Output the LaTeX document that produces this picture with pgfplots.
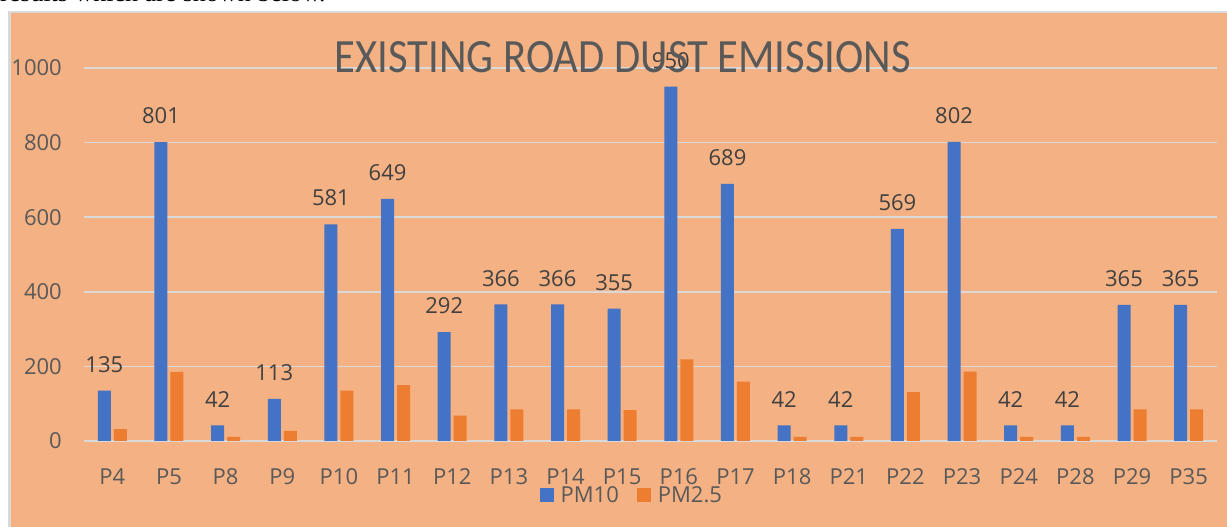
\documentclass[border=0pt]{standalone}
\usepackage{pgfplots}
\pgfplotsset{compat=1.18}
\usepackage{fontspec}
\setmainfont{Open Sans}
\newfontfamily\titlefont{Carlito}
\newfontfamily\docfont{Liberation Serif}
\definecolor{bg}{HTML}{F4B183}
\definecolor{frame}{HTML}{D9D9D9}
\definecolor{gridc}{HTML}{D9D9D9}
\definecolor{tickc}{HTML}{595959}
\definecolor{labc}{HTML}{404040}
\definecolor{pmten}{HTML}{4472C4}
\definecolor{pmtwo}{HTML}{ED7D31}
\begin{document}
\begin{tikzpicture}
\useasboundingbox (0pt,0pt) rectangle (1227pt,527pt);
\clip (0pt,0pt) rectangle (1227pt,527pt);
\fill[white] (0pt,0pt) rectangle (1227pt,527pt);
\node[anchor=base west, inner sep=0pt, font=\docfont\fontsize{26}{30}\selectfont] at (0pt,525pt) {results which are shown below.};
\fill[bg] (9.5pt,-10pt) rectangle (1240pt,515pt);
\draw[frame, line width=2.5pt] (9.5pt,-10pt) -- (9.5pt,515pt) -- (1240pt,515pt);
\begin{axis}[
  at={(84pt,86pt)}, anchor=south west,
  scale only axis, width=1133pt, height=373pt,
  xmin=-0.5, xmax=19.5, ymin=0, ymax=1000,
  enlargelimits=false, clip=false,
  ybar, bar width=13pt,
  axis line style={draw=none}, tick style={draw=none},
  ymajorgrids, grid style={gridc, line width=1.6pt},
  ytick={0,200,400,600,800,1000},
  xtick={0,...,19},
  xticklabels={P4,P5,P8,P9,P10,P11,P12,P13,P14,P15,P16,P17,P18,P21,P22,P23,P24,P28,P29,P35},
  /pgf/number format/assume math mode=true,
  /pgf/number format/1000 sep={},
  yticklabel style={font=\fontsize{22}{22}\selectfont, color=tickc, anchor=east, inner sep=0pt, xshift=-22pt},
  xticklabel style={font=\fontsize{22}{22}\selectfont, color=tickc, anchor=north, inner sep=0pt, yshift=-23pt},
  legend style={draw=none, fill=none, legend columns=2, at={(0.4835,-0.1448)}, anchor=center,
    font=\fontsize{22}{22}\selectfont, text=tickc,
    /tikz/every odd column/.append style={column sep=5pt},
    /tikz/every even column/.append style={column sep=16pt}},
  legend image code/.code={\fill[#1] (0pt,-7pt) rectangle (14pt,7pt);},
]
\addplot[fill=pmten, draw=none, bar shift=-8pt,
  nodes near coords,
  every node near coord/.append style={font=\fontsize{22}{22}\selectfont, color=labc, anchor=south, inner sep=0pt, yshift=18pt}]
  coordinates {(0,135) (1,801) (2,42) (3,113) (4,581) (5,649) (6,292) (7,366) (8,366) (9,355)
  (10,950) (11,689) (12,42) (13,42) (14,569) (15,802) (16,42) (17,42) (18,365) (19,365)};
\addplot[fill=pmtwo, draw=none, bar shift=8pt]
  coordinates {(0,32) (1,185) (2,11) (3,27) (4,135) (5,150) (6,68) (7,85) (8,85) (9,83)
  (10,219) (11,159) (12,11) (13,11) (14,131) (15,186) (16,11) (17,11) (18,85) (19,85)};
\legend{PM10,PM2.5}
\end{axis}
\node[inner sep=0pt, anchor=center, text=tickc] at (623pt,470pt) {\resizebox{576pt}{31pt}{\titlefont EXISTING ROAD DUST EMISSIONS}};
\end{tikzpicture}
\end{document}
